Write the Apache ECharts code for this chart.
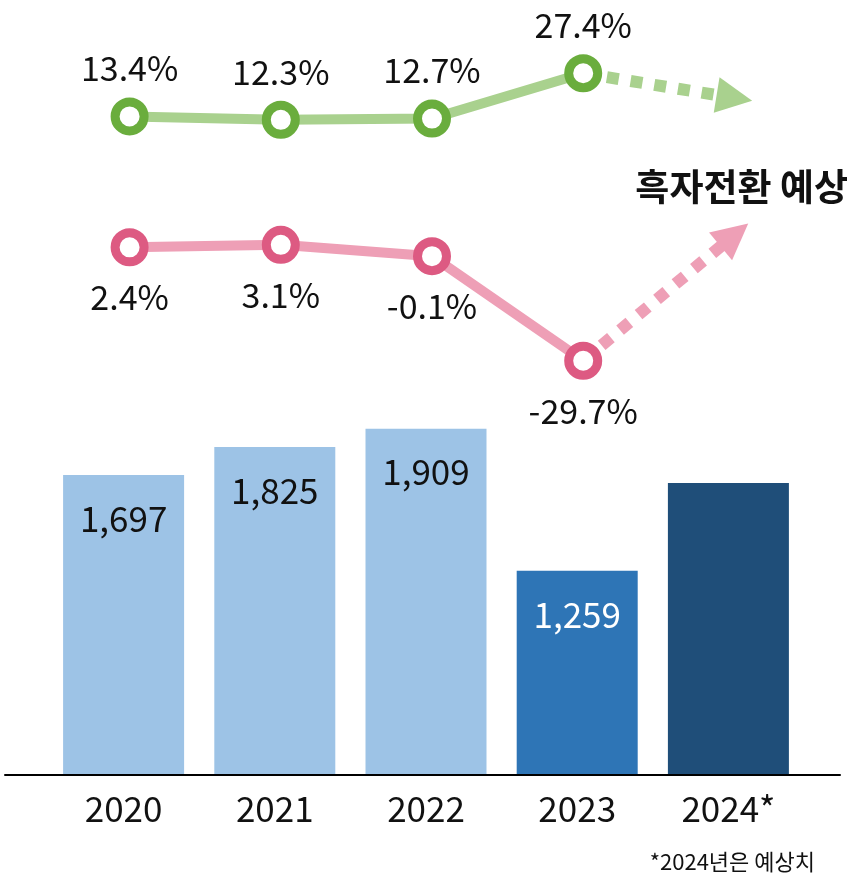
<!DOCTYPE html>
<html>
<head>
<meta charset="utf-8">
<script src="https://cdn.jsdelivr.net/npm/echarts@6/dist/echarts.min.js"></script>
<style>
  html, body { margin: 0; padding: 0; background: #ffffff; }
  #chart { width: 855px; height: 879px; }
</style>
</head>
<body>
<div id="chart"></div>
<script>
// Categories (2024 is a forecast)
const years = ['2020', '2021', '2022', '2023', '2024*'];
// Revenue bars
const revenue = [1697, 1825, 1909, 1259, 1660];
// Upper line (%), labelled
const upperRate = [13.4, 12.3, 12.7, 27.4];
// Lower line (%), labelled
const lowerRate = [2.4, 3.1, -0.1, -29.7];
// Forecast direction for 2024 (end of dotted arrows)
const upperForecast = 19.4;
const lowerForecast = 5.9;

const FONT = '"Noto Sans CJK KR", "Noto Sans", sans-serif';
const barColors = ['#9DC3E6', '#9DC3E6', '#9DC3E6', '#2E75B6', '#1F4E79'];
const labelColors = ['#111111', '#111111', '#111111', '#ffffff', '#ffffff'];

const GREEN_LINE = '#A9D18E', GREEN_DOT = '#6AAD3D';
const PINK_LINE = '#EE9FB6', PINK_DOT = '#DD5A82';

const chart = echarts.init(document.getElementById('chart'), null, { renderer: 'canvas' });

const barData = revenue.map((v, i) => ({
  value: v,
  itemStyle: { color: barColors[i] },
  label: {
    show: i < 4,
    color: labelColors[i]
  }
}));

function fmt(v) { return v.toLocaleString('en-US'); }

const option = {
  animation: false,
  backgroundColor: '#ffffff',
  grid: [
    // bars
    { left: 48, right: 51, top: 400, bottom: 105 },
    // lines
    { left: 54, right: 45, top: 0, height: 420 },
    // baseline
    { left: 5, right: 15, bottom: 104, height: 1 }
  ],
  xAxis: [
    {
      gridIndex: 0, type: 'category', data: years,
      axisLine: { show: false }, axisTick: { show: false },
      axisLabel: { fontFamily: FONT, fontSize: 35, color: '#111111', margin: 17 }
    },
    {
      gridIndex: 1, type: 'category', data: years, show: false
    },
    {
      gridIndex: 2, type: 'value', min: 0, max: 1,
      axisLine: { show: true, onZero: false, lineStyle: { color: '#000000', width: 2 } },
      axisTick: { show: false }, axisLabel: { show: false }, splitLine: { show: false }
    }
  ],
  yAxis: [
    { gridIndex: 0, type: 'value', min: 330, max: 2040, show: false, splitLine: { show: false } },
    { gridIndex: 1, type: 'value', min: -85.07, max: 51.16, show: false, splitLine: { show: false } },
    { gridIndex: 1, type: 'value', min: -46.48, max: 72.40, show: false, splitLine: { show: false } },
    { gridIndex: 2, type: 'value', min: 0, max: 1, show: false, splitLine: { show: false } }
  ],
  graphic: [
    {
      type: 'text', right: 7, top: 168,
      style: { text: '흑자전환 예상', font: 'bold 37px ' + FONT, fill: '#111111' }
    },
    {
      type: 'text', right: 40, top: 851,
      style: { text: '*2024년은 예상치', font: '22px ' + FONT, fill: '#111111' }
    }
  ],
  series: [
    {
      type: 'bar', xAxisIndex: 0, yAxisIndex: 0,
      data: barData, barWidth: 121,
      label: {
        show: true, position: 'insideTop', distance: 26,
        fontFamily: FONT, fontSize: 35,
        formatter: p => fmt(p.value)
      },
      z: 2
    },
    // dotted forecast arrows
    {
      type: 'lines', coordinateSystem: 'cartesian2d', xAxisIndex: 1, yAxisIndex: 1,
      symbol: ['none', 'triangle'], symbolSize: [38, 36],
      lineStyle: { color: GREEN_LINE, width: 12, type: [12, 12], opacity: 1, cap: 'butt' },
      data: [{ coords: [[3, upperRate[3]], [4, upperForecast]] }],
      z: 3
    },
    {
      type: 'lines', coordinateSystem: 'cartesian2d', xAxisIndex: 1, yAxisIndex: 2,
      symbol: ['none', 'triangle'], symbolSize: [38, 36],
      lineStyle: { color: PINK_LINE, width: 12, type: [12, 12], opacity: 1, cap: 'butt' },
      data: [{ coords: [[3, lowerRate[3]], [4, lowerForecast]] }],
      z: 3
    },
    {
      type: 'line', xAxisIndex: 1, yAxisIndex: 1,
      data: upperRate,
      symbol: 'circle', symbolSize: 29,
      lineStyle: { color: GREEN_LINE, width: 10 },
      itemStyle: { color: '#ffffff', borderColor: GREEN_DOT, borderWidth: 9 },
      label: {
        show: true, position: 'top', distance: 12,
        fontFamily: FONT, fontSize: 34, color: '#111111',
        formatter: p => p.value.toFixed(1) + '%'
      },
      z: 5
    },
    {
      type: 'line', xAxisIndex: 1, yAxisIndex: 2,
      data: lowerRate,
      symbol: 'circle', symbolSize: 29,
      lineStyle: { color: PINK_LINE, width: 10 },
      itemStyle: { color: '#ffffff', borderColor: PINK_DOT, borderWidth: 9 },
      label: {
        show: true, position: 'bottom', distance: 14,
        fontFamily: FONT, fontSize: 34, color: '#111111',
        formatter: p => p.value.toFixed(1) + '%'
      },
      z: 5
    }
  ]
};

chart.setOption(option);
</script>
</body>
</html>
